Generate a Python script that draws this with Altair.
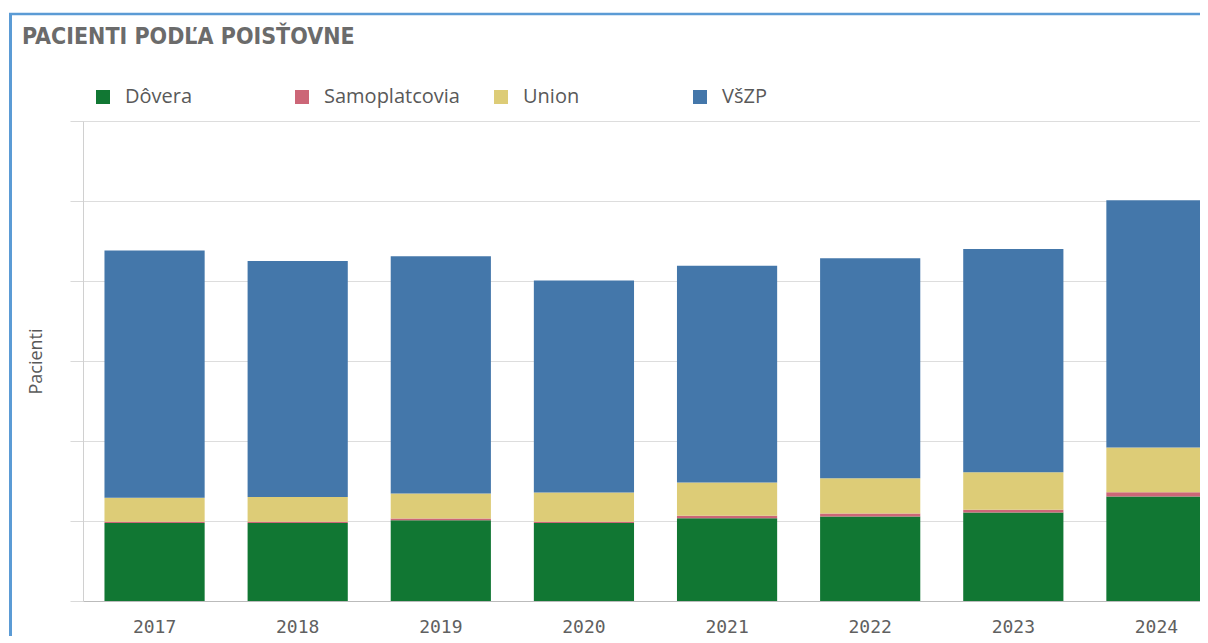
import altair as alt
import pandas as pd

years = ["2017", "2018", "2019", "2020", "2021", "2022", "2023", "2024"]
insurers = ["Dôvera", "Samoplatcovia", "Union", "VšZP"]
dovera = [975, 975, 1010, 975, 1035, 1055, 1105, 1305]
samoplatcovia = [15, 15, 20, 15, 30, 40, 35, 55]
union = [300, 310, 315, 365, 415, 440, 470, 560]
vszp = [3090, 2950, 2965, 2650, 2710, 2750, 2790, 3090]
colors = ["#117733", "#cc6677", "#ddcc77", "#4477aa"]
y_ticks = [0, 1000, 2000, 3000, 4000, 5000, 6000]

series = [dovera, samoplatcovia, union, vszp]
rows = []
for i, yr in enumerate(years):
    for k, name in enumerate(insurers):
        rows.append({"Rok": yr, "Poisťovňa": name, "Pacienti": series[k][i], "poradie": k})
df = pd.DataFrame(rows)

bars = alt.Chart(df).mark_bar().encode(
    x=alt.X(
        "Rok:N",
        scale=alt.Scale(paddingInner=0.3, paddingOuter=0.15, range=[0, 1145]),
        axis=alt.Axis(
            title=None, labelAngle=0, ticks=False, tickSize=0, labelPadding=17,
            labelFont="DejaVu Sans Mono", labelFontSize=18, labelColor="#606060",
            domainColor="#bbbbbb", grid=False,
        ),
    ),
    y=alt.Y(
        "Pacienti:Q",
        stack="zero",
        scale=alt.Scale(domain=[0, 6000], nice=False),
        axis=alt.Axis(
            title="Pacienti", labels=False, values=y_ticks, tickSize=13,
            tickColor="#d9d9d9", gridColor="#dddddd", domainColor="#d0d0d0",
            titlePadding=24, titleFont="Open Sans", titleFontSize=18,
            titleFontWeight="normal", titleColor="#595959",
        ),
    ),
    color=alt.Color(
        "Poisťovňa:N",
        scale=alt.Scale(domain=insurers, range=colors),
        legend=alt.Legend(
            title=None, orient="none", legendX=10, legendY=-34,
            direction="horizontal", columns=4, gridAlign="all", columnPadding=31,
            symbolType="square", symbolSize=196, symbolStrokeWidth=0,
            labelFont="Open Sans", labelFontSize=20, labelColor="#595959",
            labelOffset=12,
        ),
    ),
    order=alt.Order("poradie:Q", sort="ascending"),
)

dummy = pd.DataFrame({"a": [0]})
frame_left = alt.Chart(dummy).mark_rule(color="#5b9bd5", strokeWidth=3).encode(
    x=alt.value(-72.5), y=alt.value(-108), y2=alt.value(522)
)
frame_top = alt.Chart(dummy).mark_rule(color="#5b9bd5", strokeWidth=2.5).encode(
    x=alt.value(-74), x2=alt.value(1117), y=alt.value(-107)
)

chart = alt.layer(bars, frame_left, frame_top).properties(
    width=1117,
    height=480,
    autosize=alt.AutoSizeParams(type="none"),
    padding={"left": 75, "top": 113, "right": 0, "bottom": 35},
    title=alt.TitleParams(
        "PACIENTI PODĽA POISŤOVNE", anchor="start", frame="group", dx=-61, dy=41,
        font="DejaVu Sans Condensed", fontSize=23, fontWeight="bold", color="#6b6b6b",
    ),
).configure_view(stroke=None).configure(background="white")

chart.save("out.html", embed_options={"renderer": "svg", "actions": False})
